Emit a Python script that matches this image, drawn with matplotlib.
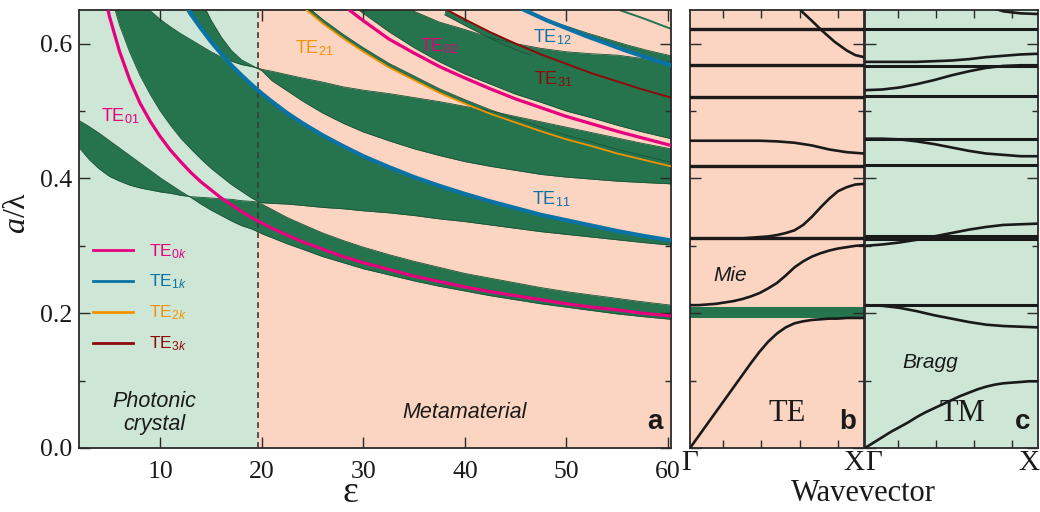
import numpy as np
import matplotlib
matplotlib.use('Agg')
import matplotlib.pyplot as plt
from matplotlib.ticker import MultipleLocator, FixedLocator, FormatStrFormatter
from matplotlib.lines import Line2D

plt.rcParams['font.family'] = ['Liberation Serif', 'DejaVu Serif']
plt.rcParams['mathtext.fontset'] = 'custom'
plt.rcParams['mathtext.rm'] = 'Liberation Sans'
plt.rcParams['mathtext.it'] = 'Liberation Serif:italic'
plt.rcParams['mathtext.sf'] = 'Liberation Sans:italic'
plt.rcParams['mathtext.bf'] = 'Liberation Sans:bold'

# ---------------- panel a data (epsilon grid) ----------------
eps = [2, 3, 4, 5, 6, 7, 8, 9, 10, 11, 12, 13, 14, 15, 16, 17, 18, 19, 19.6, 20,
       21, 22.5, 24, 26, 28, 30, 32.5, 35, 37.5, 40, 42.5, 45, 47.5, 50, 52.5, 55, 57.5, 60.3]
te01 = [0.88, 0.78, 0.71, 0.64, 0.588, 0.546, 0.512, 0.485, 0.462, 0.442, 0.425, 0.409, 0.395,
        0.383, 0.371, 0.361, 0.351, 0.342, 0.337, 0.334, 0.326, 0.316, 0.306, 0.295, 0.284,
        0.275, 0.265, 0.255, 0.247, 0.239, 0.232, 0.226, 0.220, 0.214, 0.209, 0.205, 0.200, 0.196]
te11 = [1.392, 1.206, 1.078, 0.984, 0.911, 0.853, 0.804, 0.762, 0.727, 0.696, 0.669, 0.644, 0.623,
        0.603, 0.585, 0.568, 0.553, 0.539, 0.531, 0.526, 0.514, 0.497, 0.482, 0.464, 0.448,
        0.433, 0.417, 0.402, 0.389, 0.377, 0.366, 0.356, 0.346, 0.338, 0.330, 0.322, 0.315, 0.308]
edge_a = [0.486, 0.477, 0.467, 0.456, 0.445, 0.434, 0.423, 0.412, 0.401, 0.391, 0.381, 0.372, 0.362,
          0.353, 0.345, 0.337, 0.330, 0.325, 0.321, 0.318, 0.312, 0.303, 0.295, 0.284, 0.275,
          0.266, 0.257, 0.248, 0.240, 0.233, 0.226, 0.220, 0.214, 0.209, 0.204, 0.199, 0.195, 0.191]
edge_b = [0.446, 0.428, 0.414, 0.403, 0.396, 0.390, 0.386, 0.383, 0.380, 0.378, 0.375, 0.373, 0.372,
          0.371, 0.370, 0.369, 0.367, 0.366, 0.365, 0.364, 0.363, 0.362, 0.360, 0.357, 0.355,
          0.352, 0.349, 0.345, 0.340, 0.336, 0.331, 0.326, 0.321, 0.317, 0.313, 0.309, 0.305, 0.301]
edge_d = [0.958, 0.830, 0.742, 0.678, 0.627, 0.587, 0.553, 0.525, 0.500, 0.479, 0.460, 0.444, 0.429,
          0.415, 0.403, 0.391, 0.381, 0.371, 0.366, 0.362, 0.354, 0.342, 0.332, 0.319, 0.308,
          0.298, 0.287, 0.277, 0.268, 0.259, 0.252, 0.245, 0.238, 0.232, 0.227, 0.222, 0.217, 0.212]
edge_e = [0.80, 0.77, 0.745, 0.72, 0.70, 0.68, 0.665, 0.649, 0.636, 0.625, 0.615, 0.606, 0.597,
          0.588, 0.580, 0.574, 0.569, 0.566, 0.564, 0.562, 0.559, 0.554, 0.549, 0.543, 0.536,
          0.531, 0.526, 0.520, 0.514, 0.507, 0.500, 0.492, 0.484, 0.476, 0.468, 0.460, 0.452, 0.444]
edge_p = [1.0, 0.95, 0.90, 0.86, 0.83, 0.80, 0.78, 0.76, 0.74, 0.725, 0.71, 0.69, 0.665,
          0.635, 0.610, 0.590, 0.576, 0.568, 0.563, 0.560, 0.545, 0.530, 0.515, 0.497, 0.482,
          0.469, 0.456, 0.444, 0.434, 0.425, 0.418, 0.412, 0.406, 0.402, 0.399, 0.396, 0.394, 0.392]

eps02 = [26, 28, 30, 32.5, 35, 37.5, 40, 42.5, 45, 47.5, 50, 52.5, 55, 57.5, 60.3]
te02 = [0.676, 0.657, 0.634, 0.607, 0.586, 0.566, 0.549, 0.533, 0.518, 0.505, 0.492, 0.481, 0.470, 0.460, 0.449]
band4_lo = [0.690, 0.668, 0.645, 0.618, 0.594, 0.573, 0.555, 0.540, 0.525, 0.513, 0.500, 0.490, 0.479, 0.469, 0.459]
band4_hi = [0.80, 0.77, 0.74, 0.69, 0.648, 0.632, 0.621, 0.609, 0.600, 0.593, 0.588, 0.585, 0.583, 0.578, 0.573]

eps12 = [44, 46, 48, 50, 52, 54, 56, 58, 60.3]
te12 = [0.663, 0.649, 0.635, 0.623, 0.611, 0.600, 0.589, 0.579, 0.568]
band5_hi = [0.663, 0.649, 0.636, 0.626, 0.616, 0.607, 0.598, 0.590, 0.582]

eps21 = [22, 24, 26, 28, 30, 32.5, 35, 37.5, 40, 42.5, 45, 47.5, 50, 52.5, 55, 57.5, 60.3]
te21 = [0.682, 0.655, 0.630, 0.608, 0.588, 0.565, 0.546, 0.527, 0.511, 0.496, 0.483, 0.470, 0.458, 0.448, 0.437, 0.428, 0.418]
strip21_hi = [0.688, 0.661, 0.636, 0.614, 0.594, 0.571, 0.552, 0.533, 0.517, 0.502, 0.489, 0.476, 0.464, 0.454, 0.443, 0.434, 0.424]

eps31 = [38, 40, 42.5, 45, 46.5]
te31_full_eps = [38, 40, 42.5, 45, 47.5, 50, 52.5, 55, 57.5, 60.3]
te31 = [0.652, 0.636, 0.617, 0.600, 0.584, 0.570, 0.556, 0.544, 0.532, 0.520]
strip31_lo = [0.643, 0.627, 0.608, 0.591, 0.583]
strip31_hi = [0.652, 0.636, 0.617, 0.600, 0.591]

eps_thin = [55.4, 57.5, 60.3]
thin_line = [0.649, 0.638, 0.622]

eps_boundary = 19.6

# ---------------- panel b data (TE band structure) ----------------
kx = [0, 0.1, 0.2, 0.3, 0.4, 0.5, 0.6, 0.7, 0.8, 0.9, 1.0]
kx_fine = [0, 0.05, 0.1, 0.15, 0.2, 0.25, 0.3, 0.35, 0.4, 0.45, 0.5,
           0.55, 0.6, 0.65, 0.7, 0.75, 0.8, 0.85, 0.9, 0.95, 1.0]
b_flat = [0.622, 0.568, 0.521, 0.419, 0.311]
b_band1 = [0.0, 0.018, 0.036, 0.054, 0.072, 0.090, 0.108, 0.126, 0.143, 0.158, 0.170,
           0.179, 0.185, 0.188, 0.190, 0.191, 0.192, 0.192, 0.193, 0.193, 0.193]
b_mie = [0.212, 0.212, 0.213, 0.214, 0.216, 0.218, 0.221, 0.225, 0.230, 0.237, 0.245,
         0.256, 0.268, 0.277, 0.284, 0.289, 0.293, 0.296, 0.298, 0.300, 0.301]
b_rise = [0.311, 0.311, 0.311, 0.311, 0.311, 0.311, 0.311, 0.312, 0.313, 0.314, 0.316,
          0.319, 0.323, 0.331, 0.343, 0.357, 0.370, 0.381, 0.387, 0.391, 0.392]
b_dip = [0.456, 0.456, 0.456, 0.456, 0.456, 0.455, 0.453, 0.449, 0.443, 0.439, 0.437]
kx_top = [0.6, 0.65, 0.7, 0.76, 0.83, 0.9, 0.95, 1.0]
b_top = [0.66, 0.646, 0.634, 0.619, 0.603, 0.590, 0.583, 0.580]
b_gap = (0.193, 0.209)

# ---------------- panel c data (TM band structure) ----------------
c_flat = [0.622, 0.567, 0.522, 0.459, 0.420, 0.314, 0.310, 0.212]
c_band1 = [0.0, 0.008, 0.016, 0.024, 0.031, 0.038, 0.046, 0.053, 0.059, 0.065, 0.071,
           0.077, 0.082, 0.087, 0.091, 0.094, 0.096, 0.097, 0.098, 0.099, 0.099]
c_desc = [0.212, 0.211, 0.208, 0.203, 0.197, 0.192, 0.187, 0.183, 0.181, 0.180, 0.179]
c_rise1 = [0.300, 0.302, 0.305, 0.309, 0.314, 0.319, 0.324, 0.328, 0.331, 0.332, 0.333]
c_dip = [0.459, 0.459, 0.458, 0.455, 0.451, 0.446, 0.441, 0.437, 0.435, 0.433, 0.433]
c_rise2 = [0.531, 0.532, 0.535, 0.540, 0.546, 0.553, 0.559, 0.564, 0.567, 0.568, 0.568]
c_rise3 = [0.573, 0.573, 0.573, 0.573, 0.574, 0.575, 0.577, 0.580, 0.582, 0.584, 0.585]
kx_ctop = [0.75, 0.8, 0.9, 1.0]
c_top = [0.652, 0.648, 0.645, 0.644]

xtick_frac = [0.19, 0.41, 0.63, 0.85]

# ---------------- colours ----------------
LG = '#cde6d5'
SAL = '#fcd4c2'
DG = '#26744e'
EDGE = '#1c5236'
MAG = '#e6007e'
BLUE = '#0b72a6'
ORANGE = '#f39200'
DRED = '#8c0a0a'
INK = '#1a1a1a'
SANS = 'Liberation Sans'

fig = plt.figure(figsize=(10.4, 5.12), dpi=100)
axa = fig.add_axes([0.0760, 0.125, 0.5692, 0.8555])
axb = fig.add_axes([0.6635, 0.125, 0.1673, 0.8555])
axc = fig.add_axes([0.8317, 0.125, 0.1663, 0.8555])

# ---------------- panel a ----------------
E = np.array(eps)
T01 = np.array(te01); T11 = np.array(te11)
A = np.array(edge_a); B = np.array(edge_b); D = np.array(edge_d)
E1 = np.array(edge_e); P = np.array(edge_p)

axa.set_xlim(eps[0], eps[-1])
axa.set_ylim(0, 0.65)
axa.axvspan(eps[0], eps_boundary, color=LG, lw=0, zorder=0)
axa.axvspan(eps_boundary, eps[-1], color=SAL, lw=0, zorder=0)

# gap 1
axa.fill_between(E, A, np.minimum(B, D), color=DG, lw=0, zorder=1)
# gap 2
lo2 = np.maximum(B, D); hi2 = np.minimum(E1, T11)
axa.fill_between(E, lo2, hi2, where=hi2 > lo2, interpolate=True, color=DG, lw=0, zorder=1)
# gap 3
lo3 = np.maximum(T11, np.minimum(E1, P)); hi3 = np.maximum(E1, P)
axa.fill_between(E, lo3, hi3, where=hi3 > lo3, interpolate=True, color=DG, lw=0, zorder=1)
# upper gaps
axa.fill_between(eps21, te21, strip21_hi, color=DG, lw=0, zorder=1)
b4lo = np.array(band4_lo); b4hi = np.array(band4_hi)
axa.fill_between(eps02, b4lo, b4hi, where=b4hi > b4lo, interpolate=True, color=DG, lw=0, zorder=1)
axa.fill_between(eps12, te12, band5_hi, color=DG, lw=0, zorder=1)
axa.fill_between(eps31, strip31_lo, strip31_hi, color=DG, lw=0, zorder=1)

for arr in (A, B, D, E1, P):
    axa.plot(E, arr, color=EDGE, lw=0.6, zorder=2)
axa.plot(eps21, strip21_hi, color=EDGE, lw=0.6, zorder=2)
axa.plot(eps02, band4_lo, color=EDGE, lw=0.6, zorder=2)
axa.plot(eps02, band4_hi, color=EDGE, lw=0.6, zorder=2)
axa.plot(eps12, band5_hi, color=EDGE, lw=0.6, zorder=2)
axa.plot(eps31, strip31_lo, color=EDGE, lw=0.6, zorder=2)
axa.plot(eps_thin, thin_line, color=DG, lw=1.4, zorder=2)

axa.axvline(eps_boundary, color='#3a3a3a', lw=1.2, ls=(0, (3.5, 2.5)), zorder=3)

axa.plot(E, T01, color=MAG, lw=2.3, zorder=4)
axa.plot(eps02, te02, color=MAG, lw=2.3, zorder=4)
axa.plot(E, T11, color=BLUE, lw=3.0, zorder=4)
axa.plot(eps12, te12, color=BLUE, lw=3.0, zorder=4)
axa.plot(eps21, te21, color=ORANGE, lw=1.3, zorder=4)
axa.plot(te31_full_eps, te31, color=DRED, lw=1.4, zorder=4)

lab_kw = dict(fontsize=13, family=SANS, ha='center', va='center', zorder=6)
axa.text(6.1, 0.493, 'TE$_{01}$', color=MAG, **lab_kw)
axa.text(25.2, 0.594, 'TE$_{21}$', color=ORANGE, **lab_kw)
axa.text(37.5, 0.597, 'TE$_{02}$', color=MAG, **lab_kw)
axa.text(48.6, 0.610, 'TE$_{12}$', color=BLUE, **lab_kw)
axa.text(48.7, 0.548, 'TE$_{31}$', color=DRED, **lab_kw)
axa.text(48.5, 0.369, 'TE$_{11}$', color=BLUE, **lab_kw)

handles = [Line2D([], [], color=c, lw=2) for c in (MAG, BLUE, ORANGE, DRED)]
labels = ['TE$_{0\\mathsf{k}}$', 'TE$_{1\\mathsf{k}}$', 'TE$_{2\\mathsf{k}}$', 'TE$_{3\\mathsf{k}}$']
leg = axa.legend(handles, labels, loc='upper left', bbox_to_anchor=(0.0236, 0.47),
                 frameon=False, borderpad=0, borderaxespad=0, handlelength=2.3,
                 handletextpad=0.9, labelspacing=0.72, prop={'family': SANS, 'size': 12.5})
for t, c in zip(leg.get_texts(), (MAG, BLUE, ORANGE, DRED)):
    t.set_color(c)

axa.text(9.4, 0.052, 'Photonic\ncrystal', family=SANS, style='italic', fontsize=15.5,
         ha='center', va='center', color=INK, linespacing=1.1)
axa.text(40.0, 0.052, 'Metamaterial', family=SANS, style='italic', fontsize=15.5,
         ha='center', va='center', color=INK)
axa.text(0.985, 0.03, 'a', transform=axa.transAxes, family=SANS, weight='bold',
         fontsize=20, ha='right', va='bottom', color=INK)

# ---------------- panel b ----------------
axb.set_xlim(0, 1); axb.set_ylim(0, 0.65)
axb.set_facecolor(SAL)
axb.axhspan(b_gap[0], b_gap[1], color=DG, lw=0, zorder=1)
for v in b_flat:
    axb.axhline(v, color=INK, lw=2.4, zorder=3)
axb.plot(kx_fine, b_band1, color=INK, lw=1.9, zorder=3)
axb.plot(kx_fine, b_mie, color=INK, lw=1.9, zorder=3)
axb.plot(kx_fine, b_rise, color=INK, lw=1.9, zorder=3)
axb.plot(kx, b_dip, color=INK, lw=1.9, zorder=3)
axb.plot(kx_top, b_top, color=INK, lw=1.9, zorder=3)
axb.text(0.23, 0.256, 'Mie', family=SANS, style='italic', fontsize=15, ha='center', va='center', color=INK)
axb.text(0.56, 0.03, 'TE', fontsize=22, ha='center', va='bottom', color=INK)
axb.text(0.955, 0.03, 'b', transform=axb.transAxes, family=SANS, weight='bold',
         fontsize=20, ha='right', va='bottom', color=INK)

# ---------------- panel c ----------------
axc.set_xlim(0, 1); axc.set_ylim(0, 0.65)
axc.set_facecolor(LG)
for v in c_flat:
    axc.axhline(v, color=INK, lw=2.2, zorder=3)
axc.plot(kx_fine, c_band1, color=INK, lw=1.9, zorder=3)
for arr in (c_desc, c_rise1, c_dip, c_rise2, c_rise3):
    axc.plot(kx, arr, color=INK, lw=1.9, zorder=3)
axc.plot(kx_ctop, c_top, color=INK, lw=1.9, zorder=3)
axc.text(0.375, 0.127, 'Bragg', family=SANS, style='italic', fontsize=15, ha='center', va='center', color=INK)
axc.text(0.565, 0.03, 'TM', fontsize=22, ha='center', va='bottom', color=INK)
axc.text(0.955, 0.03, 'c', transform=axc.transAxes, family=SANS, weight='bold',
         fontsize=20, ha='right', va='bottom', color=INK)

# ---------------- ticks & spines ----------------
for ax in (axa, axb, axc):
    for s in ax.spines.values():
        s.set_linewidth(1.3)
        s.set_color('#2a2a2a')
    ax.tick_params(which='both', direction='in', top=True, right=True, width=1.0, color='#2a2a2a')
    ax.tick_params(which='major', length=8)
    ax.tick_params(which='minor', length=4.5)
    ax.yaxis.set_major_locator(MultipleLocator(0.2))
    ax.yaxis.set_minor_locator(MultipleLocator(0.1))

axa.xaxis.set_major_locator(MultipleLocator(10))
axa.yaxis.set_major_formatter(FormatStrFormatter('%.1f'))
axa.tick_params(axis='both', labelsize=18.5, labelcolor=INK)
axa.tick_params(axis='x', pad=9)
axa.tick_params(axis='y', pad=5)

for ax in (axb, axc):
    ax.xaxis.set_major_locator(FixedLocator([]))
    ax.xaxis.set_minor_locator(FixedLocator(xtick_frac))
    ax.tick_params(axis='x', which='minor', length=6)
    ax.tick_params(labelleft=False, labelbottom=False)

tl = dict(fontsize=21, va='top', color=INK)
axb.text(0.0, -0.005, 'Γ', transform=axb.transAxes, ha='center', **tl)
axb.text(1.0, -0.005, 'X', transform=axb.transAxes, ha='right', **tl)
axc.text(0.0, -0.005, 'Γ', transform=axc.transAxes, ha='left', **tl)
axc.text(1.01, -0.005, 'X', transform=axc.transAxes, ha='right', **tl)

fig.text(0.830, 0.037, 'Wavevector', fontsize=22, ha='center', va='center', color=INK)
fig.text(0.3365, 0.004, 'ε', fontsize=27, ha='center', va='bottom', color=INK)
fig.text(0.017, 0.584, '$a$/λ', fontsize=23, rotation=90, ha='center', va='center', color=INK)

fig.savefig('out.png', dpi=100)
